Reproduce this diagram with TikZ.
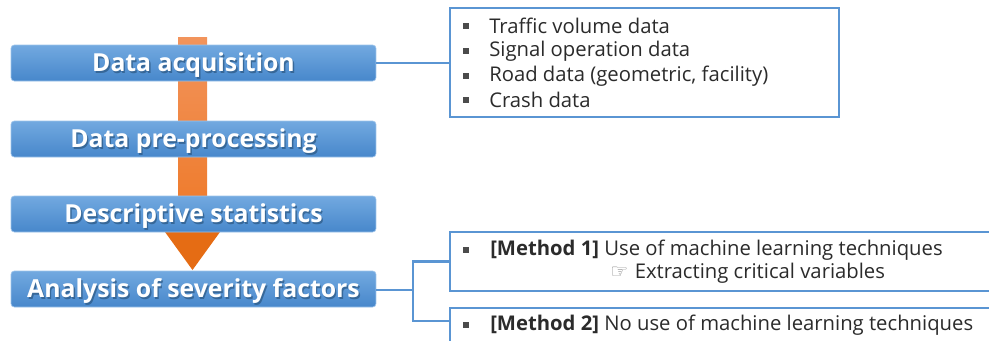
\documentclass[tikz,border=0pt]{standalone}
\usepackage{fontspec}
\setmainfont{Open Sans}
\newfontfamily\symfont{DejaVu Sans}
\usetikzlibrary{calc}

\definecolor{barTop}{HTML}{72A9E0}
\definecolor{barBot}{HTML}{4787CB}
\definecolor{barEdge}{HTML}{9CC3EA}
\definecolor{frameBlue}{HTML}{5A95D3}
\definecolor{arrTop}{HTML}{F2945C}
\definecolor{arrBot}{HTML}{EE7826}
\definecolor{arrHead}{HTML}{E56C14}
\definecolor{bodyText}{HTML}{2B2B2B}
\definecolor{textShade}{HTML}{2D5A86}
\definecolor{handGrey}{HTML}{8C8C8C}

\newcommand\stagefont{\fontsize{18.6}{20}\selectfont\bfseries}
\newcommand\infofont{\fontsize{15.2}{18}\selectfont}

\begin{document}
\begin{tikzpicture}[x=0.75pt,y=-0.75pt,
  stagebar/.style={rounded corners=2.5pt, minimum width=273.75pt,
    minimum height=27pt, inner sep=0pt, top color=barTop,
    bottom color=barBot, draw=barEdge, line width=0.5pt},
  stagetext/.style={text=white, font=\stagefont, inner sep=0pt},
  stageshade/.style={text=textShade, font=\stagefont, inner sep=0pt, opacity=0.75},
  infobox/.style={draw=frameBlue, line width=1.6pt, fill=white, inner sep=0pt},
  link/.style={draw=frameBlue, line width=1.6pt},
  infotext/.style={text=bodyText, font=\infofont, anchor=west, inner sep=0pt},
  bulletmark/.style={fill=bodyText!85, draw=none, minimum size=4.2pt, inner sep=0pt}
]
\useasboundingbox (0,0) rectangle (989,340);
\clip (0,0) rectangle (989,340);

% flow arrow behind the stages
\shade[top color=arrTop, bottom color=arrBot] (178,37) rectangle (207,232);
\coordinate (arrowtip) at (192.5,270);
\fill[arrHead] (165,232) -- (220,232) -- (arrowtip) -- cycle;

% stages
\newcommand\stage[3]{%
  \node[stagebar] (#1) at (193.5,#2) {};
  \node[stageshade] (#1s) at ($(#1.center)+(1.4,3.6)$) {#3};
  \node[stagetext] (#1t) at ($(#1.center)+(0,2)$) {#3};}
\stage{s1}{63}{Data acquisition}
\stage{s2}{139}{Data pre-processing}
\stage{s3}{214}{Descriptive statistics}
\stage{s4}{289}{Analysis of severity factors}

% information boxes
\node[infobox, minimum width=291.75pt, minimum height=81.75pt] (b1) at (644.5,62.5) {};
\node[infobox, minimum width=450pt, minimum height=44.25pt] (b2) at (750,261.5) {};
\node[infobox, minimum width=450pt, minimum height=45pt] (b3) at (750,338) {};

% connectors
\draw[link] (s1.east) -- (s1.east -| b1.west);
\coordinate (fork) at (413,290);
\coordinate (b3in) at ($(b3.north west)+(0,14)$);
\draw[link] (s4.east |- fork) -- (fork);
\draw[link] (b2.west) -| (fork) |- (b3in);

% data sources
\foreach \y/\txt [count=\i] in {26/Traffic volume data, 51/Signal operation data,
    76/{Road data (geometric, facility)}, 100/Crash data}{
  \node[bulletmark] (d\i b) at (466,\y) {};
  \node[infotext] (d\i) at (489,\y) {\txt};
}

% analysis methods
\node[bulletmark] (m1b) at (466,250) {};
\node[infotext] (m1) at (490,250) {\textbf{[Method 1]} Use of machine learning techniques};
\node[infotext] (m1x) at (610,273) {{\color{handGrey}\symfont\fontsize{15}{17}\selectfont ☞}\hspace{1pt} Extracting critical variables};
\node[bulletmark] (m2b) at (466,325) {};
\node[infotext] (m2) at (490,325) {\textbf{[Method 2]} No use of machine learning techniques};
\end{tikzpicture}
\end{document}
